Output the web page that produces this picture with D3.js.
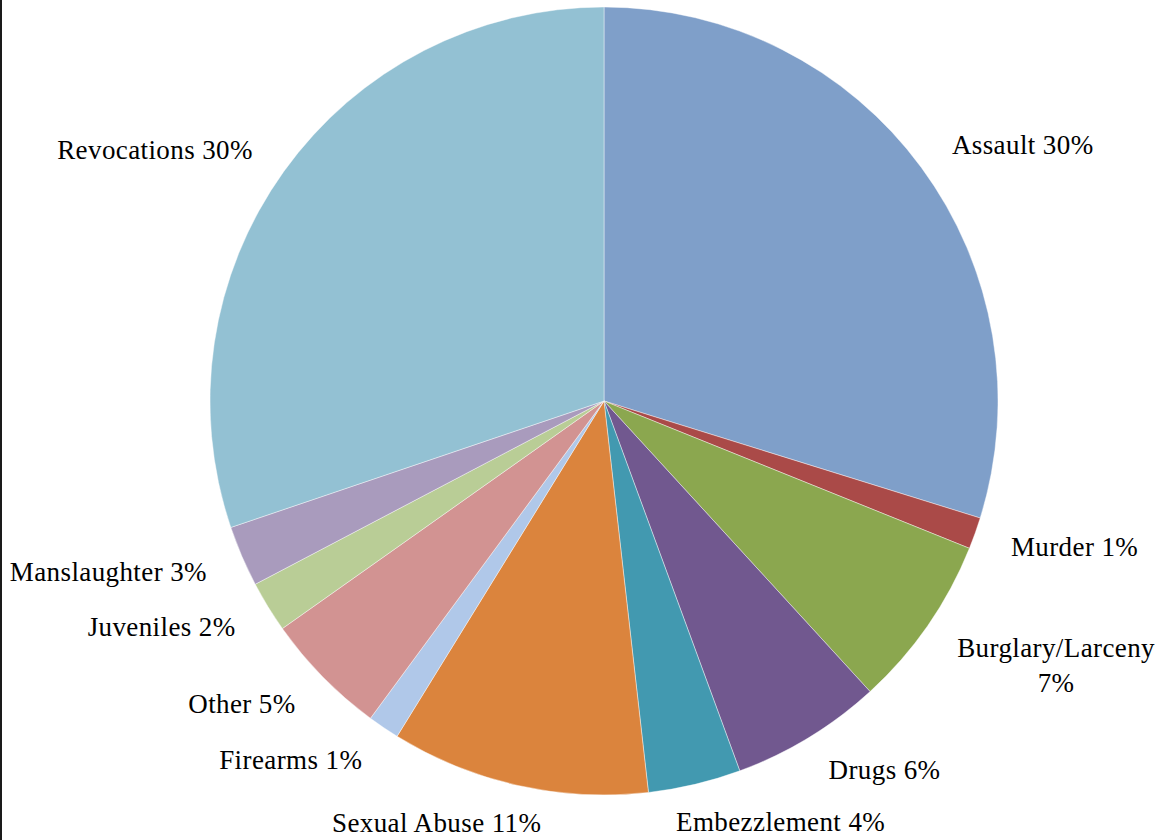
<!DOCTYPE html>
<html>
<head>
<meta charset="utf-8">
<script src="https://cdn.jsdelivr.net/npm/d3@7"></script>
<style>
  html, body { margin: 0; padding: 0; background: #fff; }
  svg { display: block; }
  text { font-family: "Liberation Serif", "DejaVu Serif", serif; fill: #000; letter-spacing: 0.4px; }
</style>
</head>
<body>
<svg id="chart" width="1161" height="840"></svg>
<script>
// Offence categories and their shares of the total (percent)
const categories = ["Assault", "Murder", "Burglary/Larceny", "Drugs", "Embezzlement",
  "Sexual Abuse", "Firearms", "Other", "Juveniles", "Manslaughter", "Revocations"];
const shares = [29.8, 1.3, 7.1, 6.2, 3.8, 10.6, 1.3, 5.1, 2.1, 2.5, 30.2];
const colors = ["#7f9fc9", "#aa4a48", "#8ba74f", "#71588f", "#4299b0",
  "#db843d", "#b0c8e9", "#d29392", "#b9cd96", "#a99bbd", "#93c1d3"];

const W = 1161, H = 840;
const cx = 604, cy = 401, R = 394, labelR = 432;
const fontSize = 27;

const svg = d3.select("#chart");

// left frame edge
svg.append("rect").attr("x", 0).attr("y", 0).attr("width", 2).attr("height", H).attr("fill", "#1a1a1a");

const data = categories.map((c, i) => ({ name: c, value: shares[i], color: colors[i] }));
const pie = d3.pie().sort(null).value(d => d.value).startAngle(0).endAngle(2 * Math.PI);
const arcs = pie(data);
const arc = d3.arc().innerRadius(0).outerRadius(R);

const g = svg.append("g").attr("transform", `translate(${cx},${cy})`);
g.selectAll("path.slice")
  .data(arcs)
  .join("path")
  .attr("class", "slice")
  .attr("d", arc)
  .attr("fill", d => d.data.color)
  .attr("stroke", "#ffffff")
  .attr("stroke-width", 0.6)
  .attr("stroke-opacity", 0.7);

const total = d3.sum(shares);
const pct = v => Math.round(v / total * 100) + "%";

// Labels placed outside the pie along each slice's mid-angle
const labels = svg.append("g").attr("font-size", fontSize);
arcs.forEach(a => {
  const mid = (a.startAngle + a.endAngle) / 2;
  const s = Math.sin(mid), c = -Math.cos(mid);
  const ax = cx + labelR * s, ay = cy + labelR * c;
  const frac = Math.max(0, Math.min(1, 0.5 - 1.6 * s));
  const full = `${a.data.name} ${pct(a.data.value)}`;

  const t = labels.append("text").attr("dy", "0.35em").text(full);
  const w = t.node().getComputedTextLength();
  let left = ax - frac * w;
  if (left + w > W - 4) {
    // too wide for the page: wrap the value onto a second, centred line
    t.text(a.data.name);
    const w1 = t.node().getComputedTextLength();
    const l1 = Math.min(ax - frac * w1, W - 6 - w1);
    const mx = l1 + w1 / 2;
    t.attr("x", mx).attr("y", ay).attr("text-anchor", "middle");
    labels.append("text").attr("x", mx).attr("y", ay + 35)
      .attr("dy", "0.35em").attr("text-anchor", "middle").text(pct(a.data.value));
  } else {
    t.attr("x", left).attr("y", ay);
  }
});
</script>
</body>
</html>
